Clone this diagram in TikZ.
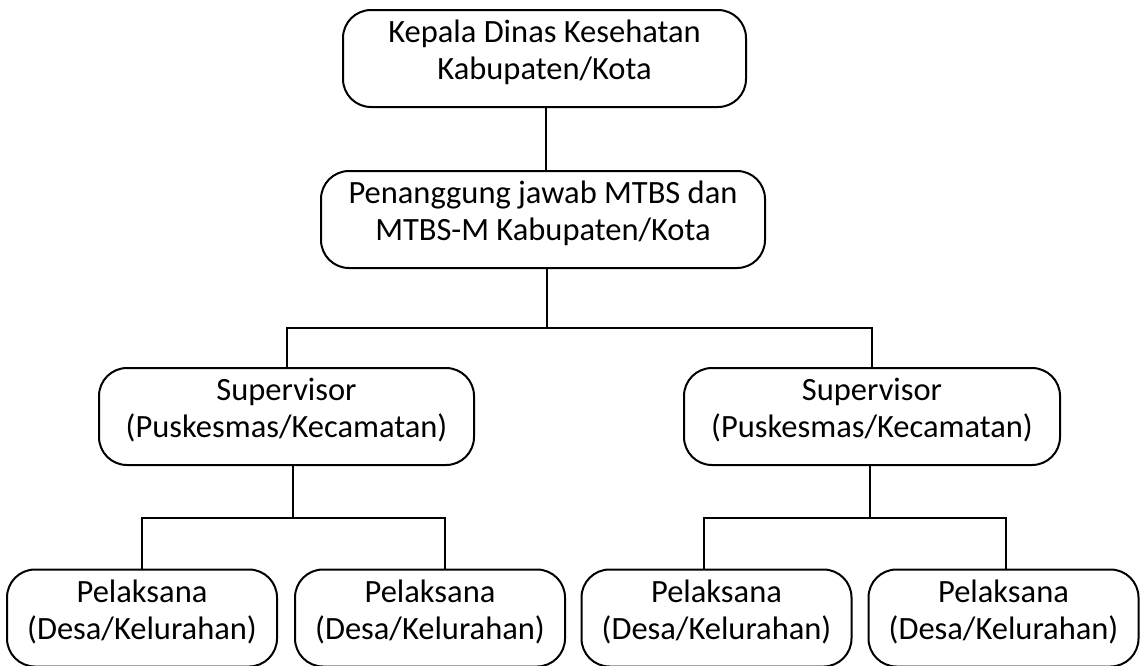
\documentclass[tikz,border=0pt]{standalone}
\usepackage{fontspec}
\setmainfont{Carlito}
\usepackage{tikz}
\tikzset{unit/.style={draw,rounded corners=28pt,line width=2pt,align=center,inner sep=0pt,
  minimum height=97pt,text height=61pt,text depth=19pt,font=\fontsize{32.5}{37}\selectfont}}

\begin{document}
\begin{tikzpicture}[x=1pt,y=-1pt,line width=2pt]
\useasboundingbox (0,0) rectangle (1145,665);
\node[unit,minimum width=403pt] (kepala) at (544.5,58.5){Kepala Dinas Kesehatan\\Kabupaten/Kota};
\node[unit,minimum width=444pt] (pj) at (543,219.5){Penanggung jawab MTBS dan\\MTBS-M Kabupaten/Kota};
\node[unit,minimum width=375pt] (sup1) at (286.5,416.5){Supervisor\\(Puskesmas/Kecamatan)};
\node[unit,minimum width=376pt] (sup2) at (872,416.5){Supervisor\\(Puskesmas/Kecamatan)};
\node[unit,minimum width=270pt] (pel1) at (142,618){Pelaksana\\(Desa/Kelurahan)};
\node[unit,minimum width=270pt] (pel2) at (430,618){Pelaksana\\(Desa/Kelurahan)};
\node[unit,minimum width=270pt] (pel3) at (716.5,618){Pelaksana\\(Desa/Kelurahan)};
\node[unit,minimum width=270pt] (pel4) at (1003.5,618){Pelaksana\\(Desa/Kelurahan)};
\coordinate (bus) at (547,328);
\coordinate (bus1) at (293,518);
\coordinate (bus2) at (870,518);
\draw ([xshift=1.5pt]kepala.south) -- ([xshift=3pt]pj.north);
\draw (pj.south -| bus) -- (bus);
\draw (sup1.north) |- (bus) -| (sup2.north);
\draw (sup1.south -| bus1) -- (bus1);
\draw (pel1.north) |- (bus1) -| ([xshift=15pt]pel2.north);
\draw (sup2.south -| bus2) -- (bus2);
\draw ([xshift=-12.5pt]pel3.north) |- (bus2) -| ([xshift=2.5pt]pel4.north);
\end{tikzpicture}
\end{document}
